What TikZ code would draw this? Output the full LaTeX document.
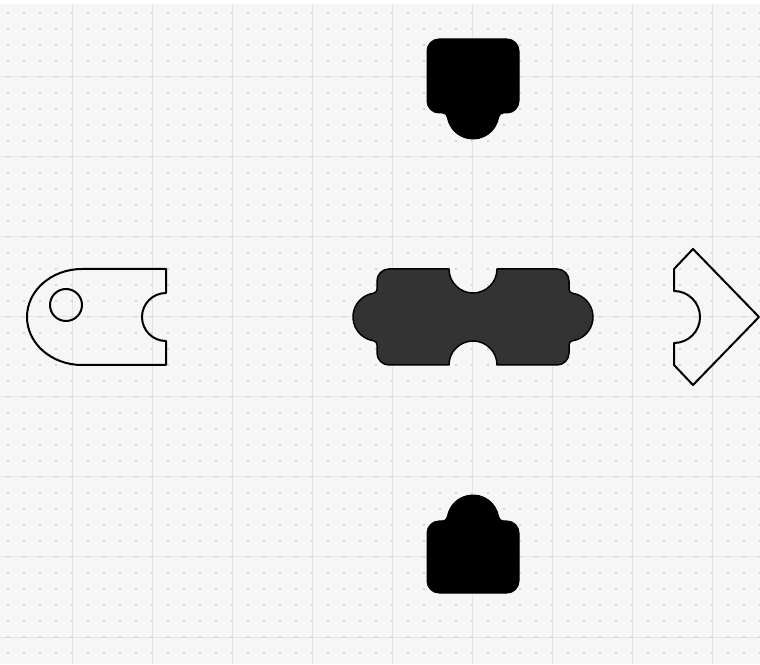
\documentclass[tikz,border=0pt]{standalone}
\usepackage{tikz}
\definecolor{Gridbg}{RGB}{246,246,246}
\definecolor{Gridline}{RGB}{228,228,228}
\definecolor{Griddot}{RGB}{214,214,214}
\definecolor{Piecedark}{RGB}{51,51,51}
\usetikzlibrary{calc, positioning}

\begin{document}
\begin{tikzpicture}[
  x=1pt, y=1pt,
  gridmajor/.style={draw=Gridline, line width=1pt},
  griddots/.style={draw=Griddot, line width=2pt, dash pattern=on 2pt off 14pt},
  outlinepiece/.style={draw=black, line width=2pt, line join=round},
  darkpiece/.style={draw=black, fill=Piecedark, line width=1.5pt, line join=round},
  blackpiece/.style={draw=black, fill=black, line width=1pt, line join=round}
]

\useasboundingbox (0,0) rectangle (760,664);

%% ---- FONDO: cuadricula ----
\fill[white] (0,0) rectangle (760,664);
\fill[Gridbg] (0,0) rectangle (760,660);
\foreach \gx in {72,152,...,712}
  \draw[gridmajor] (\gx,0) -- (\gx,660);
\foreach \gy in {27,107,...,587}
  \draw[gridmajor] (0,\gy) -- (760,\gy);
\foreach \gy in {11,27,...,651}
  \draw[griddots] (7,\gy) -- (760,\gy);

%% ---- PIEZA IZQUIERDA (contorno) ----
\draw[outlinepiece] (82,395) -- (166,395) -- (166,371)
  arc (90:270:24) -- (166,299) -- (82,299)
  arc [start angle=270, end angle=90, x radius=55, y radius=48] -- cycle;
\draw[outlinepiece] (66,359) circle (16);

%% ---- PIEZA CENTRAL (gris oscuro) ----
\draw[darkpiece] (389,395) -- (449,395) arc (180:360:24)
  -- (557,395) arc (90:0:12)
  -- (569,374.71) arc (180:261.79:4) arc (81.79:-81.79:24) arc (98.21:180:4)
  -- (569,311) arc (0:-90:12)
  -- (497,299) arc (0:180:24)
  -- (389,299) arc (270:180:12)
  -- (377,319.29) arc (0:81.79:4) arc (261.79:98.21:24) arc (-81.79:0:4)
  -- (377,383) arc (180:90:12) -- cycle;

%% ---- PIEZA SUPERIOR (negra) ----
\draw[blackpiece] (439,625) -- (507,625) arc (90:0:12)
  -- (519,563) arc (0:-90:12)
  -- (503.59,551) arc (90:170.72:5) arc (-9.28:-170.72:26) arc (9.28:90:5)
  -- (439,551) arc (270:180:12)
  -- (427,613) arc (180:90:12) -- cycle;

%% ---- PIEZA INFERIOR (negra) ----
\draw[blackpiece] (439,71) -- (507,71) arc (270:360:12)
  -- (519,131) arc (0:90:12)
  -- (503.59,143) arc (-90:-170.72:5) arc (9.28:170.72:26) arc (-9.28:-90:5)
  -- (439,143) arc (90:180:12)
  -- (427,83) arc (180:270:12) -- cycle;

%% ---- PIEZA DERECHA (contorno) ----
\draw[outlinepiece] (674,395) -- (693,415) -- (759,347) -- (693,279)
  -- (674,299) -- (674,321) arc (-90:90:26) -- cycle;

\end{tikzpicture}
\end{document}
